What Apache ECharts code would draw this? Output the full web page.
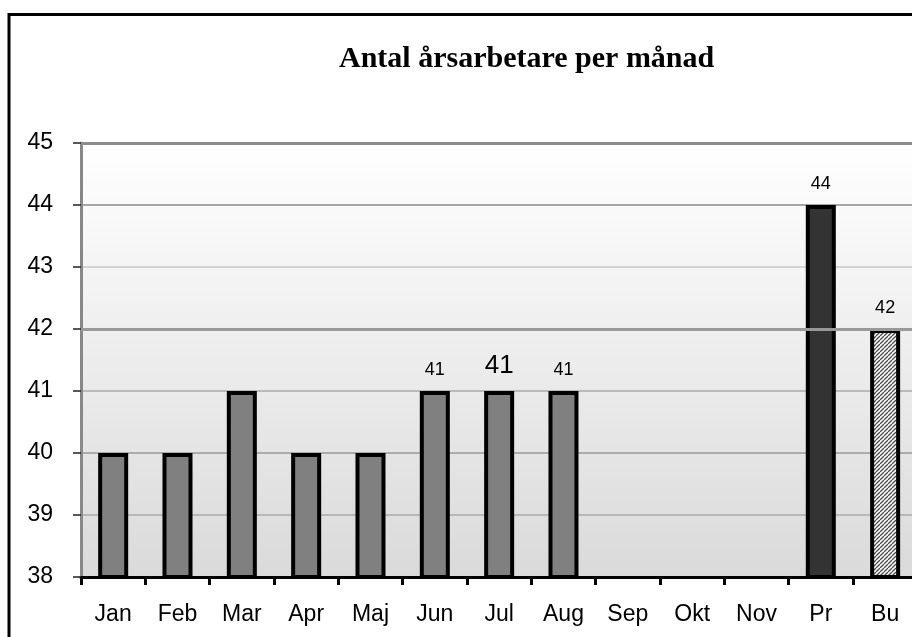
<!DOCTYPE html>
<html>
<head>
<meta charset="utf-8">
<script src="https://cdn.jsdelivr.net/npm/echarts@6/dist/echarts.min.js"></script>
<style>
html,body{margin:0;padding:0;overflow:hidden;background:#fff;}
#chart{width:930px;height:637px;}
</style>
</head>
<body>
<div id="chart"></div>
<script>
const titleText = 'Antal årsarbetare per månad';
const categories = ['Jan','Feb','Mar','Apr','Maj','Jun','Jul','Aug','Sep','Okt','Nov','Pr','Bu'];
const values = [40,40,41,40,40,41,41,41,null,null,null,44,42];
const labelled = ['Jun','Jul','Aug','Pr','Bu'];
const bigLabel = 'Jul';
const yMin = 38, yMax = 45, yStep = 1;

function hatch(){
  const c = document.createElement('canvas');
  c.width = 4; c.height = 4;
  const g = c.getContext('2d');
  g.fillStyle = '#ffffff'; g.fillRect(0,0,4,4);
  g.strokeStyle = '#4a4a4a'; g.lineWidth = 1.3;
  g.beginPath();
  for (let k=-4;k<=8;k+=4){ g.moveTo(k,4); g.lineTo(k+4,0); }
  g.stroke();
  return c;
}
const hatchPattern = {image: hatch(), repeat: 'repeat'};

const data = categories.map((c,i)=>{
  const d = {value: values[i]};
  let fill = '#808080';
  if (c==='Pr') fill = '#333333';
  if (c==='Bu') fill = hatchPattern;
  d.itemStyle = {color: fill};
  if (labelled.includes(c)) {
    d.label = {show:true, position:'top', distance: 12, color:'#000',
      fontFamily:'Liberation Sans', fontSize: c===bigLabel?26:18};
  }
  return d;
});

const chart = echarts.init(document.getElementById('chart'), null, {renderer:'canvas'});
chart.setOption({
  animation:false,
  title:{text:titleText, left:334, top:39,
    textStyle:{fontFamily:'Liberation Serif', fontWeight:'bold', fontSize:30, color:'#000'}},
  graphic:[{type:'rect', shape:{x:9,y:14.5,width:1000,height:700}, z:-10,
    style:{fill:'none', stroke:'#000', lineWidth:3}}],
  grid:{left:81, top:143, width:836.3, height:434, show:true, borderWidth:0,
    backgroundColor:{type:'linear',x:0,y:0,x2:0,y2:1,colorStops:[{offset:0,color:'#ffffff'},{offset:1,color:'#dadada'}]}},
  xAxis:{type:'category', data:categories,
    axisLine:{lineStyle:{color:'#000', width:3}},
    axisTick:{show:true, length:8, lineStyle:{color:'#000', width:3}},
    axisLabel:{color:'#000', fontFamily:'Liberation Sans', fontSize:23, margin:26}},
  yAxis:{type:'value', min:yMin, max:yMax, interval:yStep,
    axisLine:{show:true, lineStyle:{color:'#888', width:3}},
    axisTick:{show:true, length:8, lineStyle:{color:'#222', width:1.5}},
    axisLabel:{color:'#000', fontFamily:'Liberation Sans', fontSize:23, margin:28},
    splitLine:{show:true, lineStyle:{color:['#999','#aaa','#999','#aaa','#999','#c8c8c8','#888','#999'], width:1.5}}},
  series:[{type:'bar', data:data, barWidth:30,
    itemStyle:{borderColor:'#000', borderWidth:4},
    markLine:{silent:true, symbol:'none', label:{show:false},
      data:[{yAxis:45, lineStyle:{color:'#8c8c8c', width:3, type:'solid'}},
            {yAxis:42, lineStyle:{color:'#999', width:3, type:'solid'}}]}}]
});
</script>
</body>
</html>
